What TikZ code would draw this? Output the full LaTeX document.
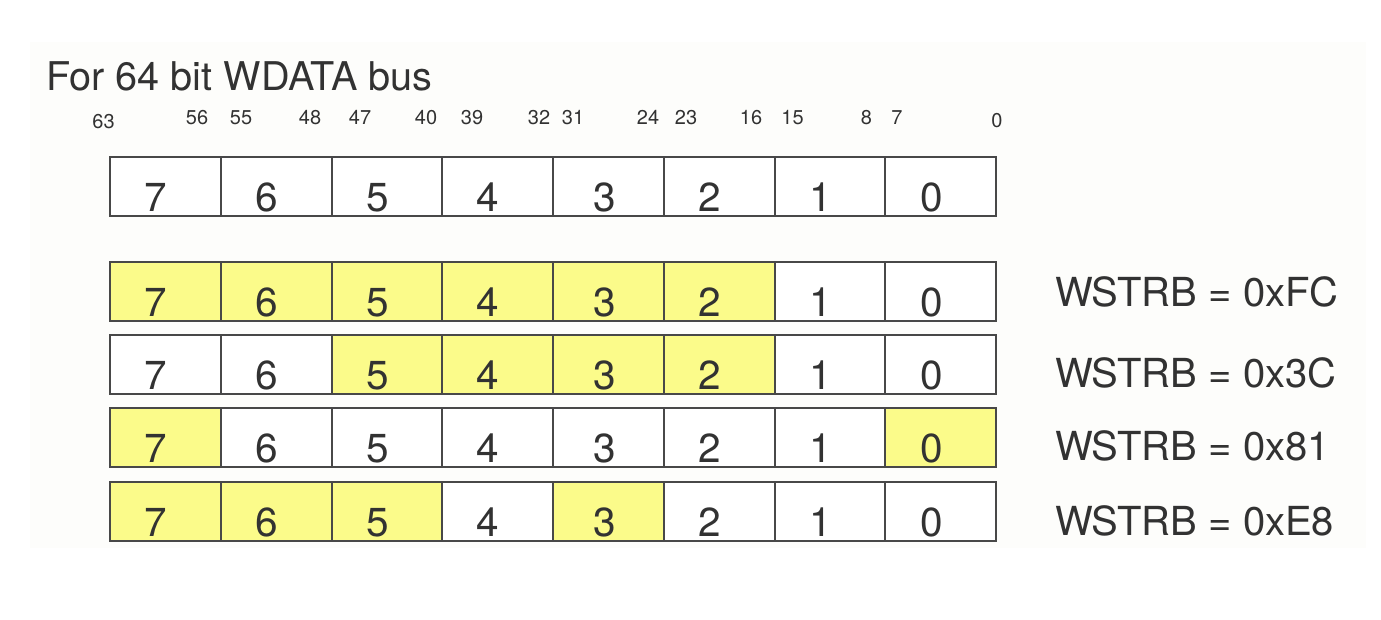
\documentclass[tikz,border=0pt]{standalone}
\usepackage{fontspec}
\setmainfont{TeX Gyre Heros}
\usetikzlibrary{calc}
\definecolor{txt}{RGB}{50,50,50}
\definecolor{edge}{RGB}{72,72,72}
\definecolor{hl}{RGB}{251,251,138}
\definecolor{bg}{RGB}{253,253,251}
\begin{document}
\begin{tikzpicture}[x=1pt,y=-1pt,
  cellbox/.style={draw=edge, line width=2.2pt, minimum width=110.75pt, minimum height=59pt, inner sep=0pt, anchor=north west},
  digit/.style={text=txt, inner sep=0pt, anchor=base, font=\fontsize{40.5}{42}\selectfont},
  bitnum/.style={text=txt, inner sep=0pt, anchor=base, font=\fontsize{20}{21}\selectfont},
  strb/.style={text=txt, inner sep=0pt, anchor=base west, font=\fontsize{40}{42}\selectfont},
  titletext/.style={text=txt, inner sep=0pt, anchor=base west, font=\fontsize{39.6}{42}\selectfont}]
\useasboundingbox (0,0) rectangle (1381,619);
\fill[white] (0,0) rectangle (1381,619);
\fill[bg] (30,42) rectangle (1366,548);

\node[titletext] (title) at (46,90) {For 64 bit WDATA bus};

% bit numbers
\foreach \n/\x/\y in {63/103.5/128, 56/197/124, 55/241/124, 48/310/124, 47/360/124, 40/426/124, 39/472/124, 32/539/124, 31/573/124, 24/648/124, 23/686/124, 16/751/124, 15/792.5/124, 8/866.5/124, 7/897/124, 0/997/127}
  \node[bitnum] (b\n) at (\x,\y) {\n};

% rows of byte lanes
\def\rowA{white,white,white,white,white,white,white,white}
\def\rowB{hl,hl,hl,hl,hl,hl,white,white}
\def\rowC{white,white,hl,hl,hl,hl,white,white}
\def\rowD{hl,white,white,white,white,white,white,hl}
\def\rowE{hl,hl,hl,white,hl,white,white,white}
\foreach \r/\t/\fl in {0/156/\rowA, 1/261/\rowB, 2/334/\rowC, 3/407/\rowD, 4/481/\rowE} {
  \edef\flx{\fl}
  \foreach \f [count=\i from 0] in \flx {
    \pgfmathtruncatemacro{\c}{7-\i}
    \pgfmathsetmacro{\dx}{\c==3 ? 53 : 47}
    \node[cellbox, fill=\f] (c\r\c) at ({109+\i*110.75},\t) {};
    \node[digit] (d\r\c) at ($(c\r\c.south west)+(\dx,-6)$) {\c};
  }
}

\node[strb] (s1) at (1055,306.5) {WSTRB = 0xFC};
\node[strb] (s2) at (1055,387) {WSTRB = 0x3C};
\node[strb] (s3) at (1055,460) {WSTRB = 0x81};
\node[strb] (s4) at (1055,535) {WSTRB = 0xE8};
\end{tikzpicture}
\end{document}
